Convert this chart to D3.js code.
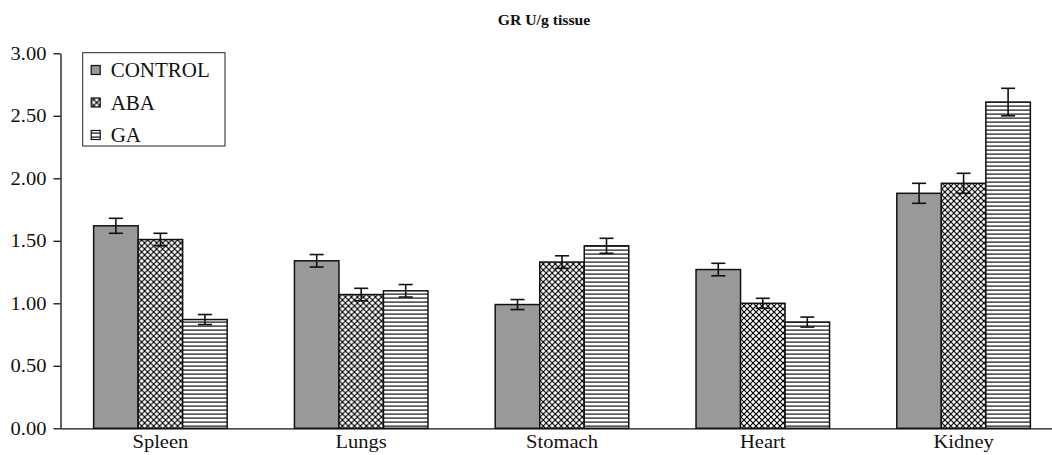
<!DOCTYPE html>
<html>
<head>
<meta charset="utf-8">
<script src="https://cdn.jsdelivr.net/npm/d3@7"></script>
<style>
  html, body { margin: 0; padding: 0; background: #fff; }
  svg { display: block; font-family: "Liberation Serif", "Times New Roman", serif; }
</style>
</head>
<body>
<svg id="chart"></svg>
<script>
// GR U/g tissue - grouped bars with error bars

// Data
const categories = ["Spleen", "Lungs", "Stomach", "Heart", "Kidney"];
const seriesNames = ["CONTROL", "ABA", "GA"];
const controlValues = [1.62, 1.34, 0.99, 1.27, 1.88];
const abaValues = [1.51, 1.07, 1.33, 1.00, 1.96];
const gaValues = [0.87, 1.10, 1.46, 0.85, 2.61];
const controlErr = [0.06, 0.05, 0.04, 0.05, 0.08];
const abaErr = [0.05, 0.05, 0.05, 0.04, 0.08];
const gaErr = [0.04, 0.05, 0.06, 0.04, 0.11];
const yTicks = [0, 0.5, 1, 1.5, 2, 2.5, 3];

// Config
const width = 1052;
const height = 455;
const stretch = 1.08; // source picture is a bit wider than tall

const svg = d3.select("#chart")
  .attr("width", width)
  .attr("height", height);

const defs = svg.append("defs");

// crosshatch for ABA
const hatch = defs.append("pattern")
  .attr("id", "pat-aba")
  .attr("patternUnits", "userSpaceOnUse")
  .attr("width", 6).attr("height", 6);
hatch.append("rect").attr("width", 6).attr("height", 6).attr("fill", "#fff");
hatch.append("path")
  .attr("d", "M-1,-1L7,7M-1,7L7,-1")
  .attr("stroke", "#000").attr("stroke-width", 1.2);

// horizontal lines for GA
const lines = defs.append("pattern")
  .attr("id", "pat-ga")
  .attr("patternUnits", "userSpaceOnUse")
  .attr("width", 8).attr("height", 4);
lines.append("rect").attr("width", 8).attr("height", 4).attr("fill", "#fff");
lines.append("rect").attr("y", 1.5).attr("width", 8).attr("height", 1.2).attr("fill", "#111");

const fills = ["#999999", "url(#pat-aba)", "url(#pat-ga)"];

const data = categories.map((c, i) => ({
  cat: c,
  vals: [
    { s: 0, v: controlValues[i], e: controlErr[i] },
    { s: 1, v: abaValues[i], e: abaErr[i] },
    { s: 2, v: gaValues[i], e: gaErr[i] }
  ]
}));

// Scales
const x0 = d3.scaleBand()
  .domain(categories)
  .range([60, 1064])
  .paddingInner(0.335)
  .paddingOuter(0.1675);

const x1 = d3.scaleBand()
  .domain(d3.range(seriesNames.length))
  .range([0, x0.bandwidth()]);

const y = d3.scaleLinear()
  .domain([0, 3])
  .range([428.3, 53.3]);

// Bars
const groups = svg.append("g").selectAll("g")
  .data(data)
  .join("g")
  .attr("transform", d => `translate(${x0(d.cat)},0)`);

groups.selectAll("rect")
  .data(d => d.vals)
  .join("rect")
  .attr("x", d => x1(d.s))
  .attr("y", d => y(d.v))
  .attr("width", x1.bandwidth())
  .attr("height", d => y(0) - y(d.v))
  .attr("fill", d => fills[d.s])
  .attr("stroke", "#111")
  .attr("stroke-width", 1.5);

// Error bars
const capW = 7;
const err = groups.selectAll("g.err")
  .data(d => d.vals)
  .join("g")
  .attr("class", "err")
  .attr("stroke", "#111")
  .attr("stroke-width", 1.6);

err.append("line")
  .attr("x1", d => x1(d.s) + x1.bandwidth() / 2)
  .attr("x2", d => x1(d.s) + x1.bandwidth() / 2)
  .attr("y1", d => y(d.v + d.e))
  .attr("y2", d => y(d.v - d.e));
err.append("line")
  .attr("x1", d => x1(d.s) + x1.bandwidth() / 2 - capW)
  .attr("x2", d => x1(d.s) + x1.bandwidth() / 2 + capW)
  .attr("y1", d => y(d.v + d.e))
  .attr("y2", d => y(d.v + d.e));
err.append("line")
  .attr("x1", d => x1(d.s) + x1.bandwidth() / 2 - capW)
  .attr("x2", d => x1(d.s) + x1.bandwidth() / 2 + capW)
  .attr("y1", d => y(d.v - d.e))
  .attr("y2", d => y(d.v - d.e));

// Axes
const yAxis = d3.axisLeft(y)
  .tickValues(yTicks)
  .tickFormat(d3.format(".2f"))
  .tickSize(7)
  .tickSizeOuter(0)
  .tickPadding(7);

const yG = svg.append("g")
  .attr("transform", "translate(60.5,0)")
  .call(yAxis);
yG.attr("font-family", null);
yG.select(".domain").attr("stroke", "#111").attr("stroke-width", 1.3);
yG.selectAll(".tick line").attr("stroke", "#111").attr("stroke-width", 1.3);
yG.selectAll(".tick text")
  .attr("font-size", 19)
  .attr("fill", "#111")
  .attr("x", -14 / stretch)
  .attr("transform", `scale(${stretch},1)`);

const xG = svg.append("g")
  .attr("transform", `translate(0,${y(0)})`)
  .call(d3.axisBottom(x0).tickSize(0).tickSizeOuter(0).tickPadding(0));
xG.attr("font-family", null);
xG.select(".domain").attr("stroke", "#111").attr("stroke-width", 1.3);
xG.selectAll(".tick text")
  .attr("font-size", 19)
  .attr("fill", "#111")
  .attr("dy", null)
  .attr("y", 20)
  .attr("transform", `scale(${stretch},1)`);

// Title
svg.append("text")
  .attr("x", 544 / 1.05)
  .attr("y", 25)
  .attr("transform", "scale(1.05,1)")
  .attr("text-anchor", "middle")
  .attr("font-weight", "bold")
  .attr("font-size", 15)
  .attr("fill", "#111")
  .text("GR U/g tissue");

// Legend
const legend = svg.append("g").attr("transform", "translate(82.7,52.7)");
legend.append("rect")
  .attr("width", 142.3)
  .attr("height", 93.3)
  .attr("fill", "#fff")
  .attr("stroke", "#222")
  .attr("stroke-width", 1);

const legendRow = d3.scalePoint()
  .domain(d3.range(seriesNames.length))
  .range([17.3, 82.3]);

const item = legend.selectAll("g.item")
  .data(seriesNames)
  .join("g")
  .attr("class", "item")
  .attr("transform", (d, i) => `translate(8,${legendRow(i)})`);

item.append("rect")
  .attr("x", 0.5).attr("y", -4.5)
  .attr("width", 9).attr("height", 9)
  .attr("fill", (d, i) => fills[i])
  .attr("stroke", "#111")
  .attr("stroke-width", 1.2);

item.append("text")
  .attr("x", 20 / 1.05)
  .attr("y", 7)
  .attr("transform", "scale(1.05,1)")
  .attr("font-size", 20)
  .attr("fill", "#111")
  .text(d => d);
</script>
</body>
</html>
